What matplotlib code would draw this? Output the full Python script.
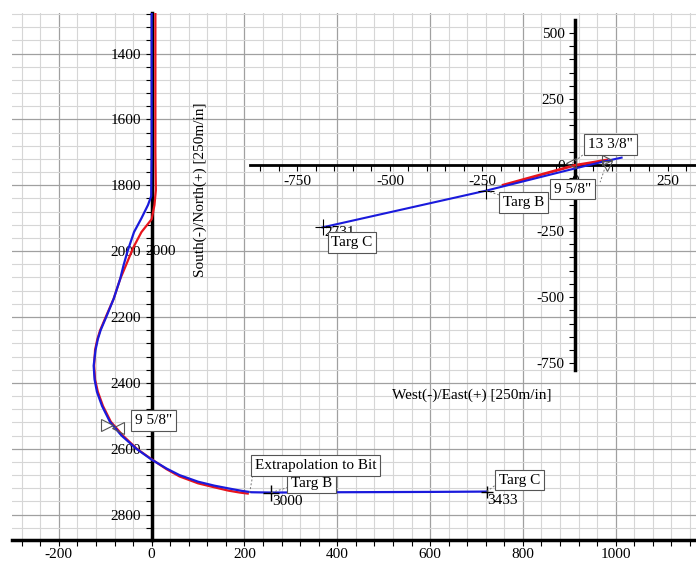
import numpy as np
import matplotlib
matplotlib.use('Agg')
import matplotlib.pyplot as plt
from matplotlib.ticker import MultipleLocator

plt.rcParams['font.family'] = ['Liberation Serif', 'DejaVu Serif']
plt.rcParams['axes.unicode_minus'] = False

# section view (vertical section vs depth)
sec_blue_x = [0, 0, -1, -8, -22, -38, -52, -61, -68, -82, -98, -110, -116, -121, -125, -123, -118,
              -107, -90, -65, -33, 0, 32, 60, 100, 135, 168, 195, 215, 258, 400, 600, 722]
sec_blue_y = [1275, 1700, 1833, 1860, 1900, 1942, 2000, 2045, 2085, 2145, 2200, 2240, 2267, 2300, 2348, 2390, 2427,
              2470, 2518, 2560, 2600, 2633, 2660, 2680, 2700, 2712, 2721, 2728, 2732, 2733, 2732, 2731, 2730]
sec_red_x = [8, 8, 9, 6, 0, -22, -40, -56, -68, -82, -99, -111, -117, -122, -124, -122, -116,
             -105, -88, -62, -32, 0, 32, 60, 100, 135, 165, 190, 207]
sec_red_y = [1275, 1700, 1815, 1860, 1903, 1942, 1990, 2045, 2085, 2145, 2200, 2240, 2267, 2300, 2348, 2390, 2427,
             2470, 2518, 2560, 2600, 2632, 2662, 2684, 2705, 2717, 2727, 2733, 2736]

# plan view (west/east vs south/north)
plan_blue_x = [126, 80, 0, -240, -682]
plan_blue_y = [28, 14, -13, -97, -236]
plan_red_x = [86, 40, 0, -194]
plan_red_y = [19, 8, -1, -76]

sec_targets = {'Targ B': (258, 2733, '3000'), 'Targ C': (722, 2730, '3433')}
plan_targets = {'Targ B': (-240, -97, ''), 'Targ C': (-682, -236, '2731')}

FS = 11
box = dict(boxstyle='square,pad=0.25', fc='white', ec='#555555', lw=0.8)
lead = dict(color='#777777', lw=0.7, ls=(0, (2, 2)))

fig = plt.figure(figsize=(6.96, 5.61), dpi=100)
ax = fig.add_axes([12 / 696, 21 / 561, 684 / 696, 527 / 561])
ax.set_xlim(-301, 1173)
ax.set_ylim(2877, 1277)

ax.xaxis.set_major_locator(MultipleLocator(200))
ax.xaxis.set_minor_locator(MultipleLocator(40))
ax.yaxis.set_major_locator(MultipleLocator(200))
ax.yaxis.set_minor_locator(MultipleLocator(40))
ax.grid(which='minor', color='#d6d6d6', lw=0.8)
ax.grid(which='major', color='#a0a0a0', lw=0.9)
ax.set_axisbelow(True)
for s in ['top', 'right']:
    ax.spines[s].set_visible(False)
ax.spines['left'].set_position(('data', 0))
ax.spines['left'].set_linewidth(2.5)
ax.spines['bottom'].set_linewidth(2.5)
ax.tick_params(which='both', direction='out', length=4, width=0.8, labelsize=FS)
ax.tick_params(axis='x', pad=2)

ax.plot(sec_red_x, sec_red_y, color='#e8141c', lw=1.6, zorder=3)
ax.plot(sec_blue_x, sec_blue_y, color='#1a1adc', lw=1.6, zorder=4)

for name, (tx, ty, md) in sec_targets.items():
    ax.plot(tx, ty, marker='+', ms=12 if name == 'Targ B' else 9, color='black', mew=1, zorder=5)
    ax.text(tx + 2, ty + 8, md, fontsize=FS, ha='left', va='top', zorder=6)
ax.plot([258, 294], [2733, 2717], **lead, zorder=5)
ax.text(300, 2704, 'Targ B', fontsize=FS, ha='left', va='center', bbox=box, zorder=6)
ax.plot([722, 743], [2730, 2708], **lead, zorder=5)
ax.text(748, 2695, 'Targ C', fontsize=FS, ha='left', va='center', bbox=box, zorder=6)
ax.plot([211, 219], [2734, 2671], **lead, zorder=5)
ax.text(222, 2651, 'Extrapolation to Bit', fontsize=FS, ha='left', va='center', bbox=box, zorder=6)
ax.text(-14, 2000, '2000', fontsize=FS, ha='left', va='center', zorder=6)

# casing shoe 9 5/8"
ax.plot([-96], [2528], marker='>', ms=8, mfc='none', mec='#555555', mew=0.8, zorder=5)
ax.plot([-72], [2538], marker='<', ms=8, mfc='none', mec='#555555', mew=0.8, zorder=5)
ax.text(-36, 2514, '9 5/8"', fontsize=FS, ha='left', va='center', bbox=box, zorder=6)

# plan view inset
ix = fig.add_axes([250 / 696, 191 / 561, 446 / 696, 350 / 561])
ix.set_facecolor('none')
ix.set_xlim(-878, 327)
ix.set_ylim(-776, 549)
for s in ['top', 'right']:
    ix.spines[s].set_visible(False)
ix.spines['left'].set_position(('data', 0))
ix.spines['bottom'].set_position(('data', 0))
ix.spines['left'].set_linewidth(2.5)
ix.spines['bottom'].set_linewidth(2)
ix.xaxis.set_major_locator(MultipleLocator(250))
ix.xaxis.set_minor_locator(MultipleLocator(50))
ix.yaxis.set_major_locator(MultipleLocator(250))
ix.yaxis.set_minor_locator(MultipleLocator(50))
ix.tick_params(which='both', direction='out', length=4, width=0.8, labelsize=FS)

ix.plot(plan_red_x, plan_red_y, color='#e8141c', lw=2, zorder=3)
ix.plot(plan_blue_x, plan_blue_y, color='#1a1adc', lw=1.5, zorder=4)
for name, (tx, ty, md) in plan_targets.items():
    ix.plot(tx, ty, marker='+', ms=11, color='black', mew=0.8, zorder=5)
ix.text(-678, -256, '2731', fontsize=FS, ha='left', va='center', zorder=6)
ix.plot([-240, -195], [-97, -118], **lead, zorder=5)
ix.text(-194, -142, 'Targ B', fontsize=FS, ha='left', va='center', bbox=box, zorder=6)
ix.text(-658, -293, 'Targ C', fontsize=FS, ha='left', va='center', bbox=box, zorder=6)

ix.plot([-12], [8], marker='<', ms=7, mfc='none', mec='#555555', mew=0.8, zorder=5)
ix.plot([86], [18], marker='>', ms=7, mfc='none', mec='#555555', mew=0.8, zorder=5)
ix.plot([86], [-4], marker='v', ms=7, mfc='none', mec='#555555', mew=0.8, zorder=5)
ix.plot([-8, 32], [6, 50], **lead, zorder=5)
ix.text(36, 78, '13 3/8"', fontsize=FS, ha='left', va='center', bbox=box, zorder=6)
ix.plot([86, 68], [10, -65], **lead, zorder=5)
ix.text(-58, -91, '9 5/8"', fontsize=FS, ha='left', va='center', bbox=box, zorder=6)

fig.text(200 / 696, 1 - 190 / 561, 'South(-)/North(+) [250m/in]', rotation=90,
         fontsize=FS, ha='center', va='center')
fig.text(472 / 696, 1 - 395 / 561, 'West(-)/East(+) [250m/in]',
         fontsize=FS, ha='center', va='center')

fig.savefig('out.png', dpi=100)
